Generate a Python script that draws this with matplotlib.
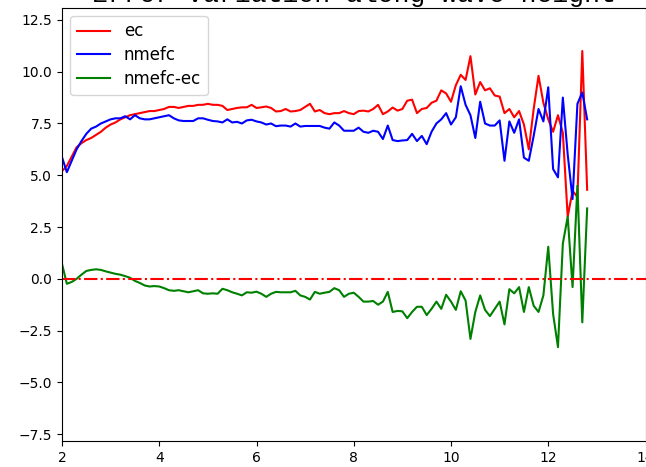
import matplotlib
matplotlib.use("Agg")
import matplotlib.pyplot as plt
import numpy as np

# wave height bins (0.1 steps from 2.0 to 12.8)
wave_height = np.round(np.arange(2.0, 12.85, 0.1), 1)

ec = [5.2, 5.45, 5.9, 6.35, 6.55, 6.7, 6.8, 6.95, 7.1, 7.3,
      7.45, 7.55, 7.7, 7.8, 7.9, 7.95, 8.0, 8.05, 8.1, 8.1,
      8.15, 8.2, 8.3, 8.3, 8.25, 8.3, 8.35, 8.35, 8.4, 8.4,
      8.45, 8.4, 8.4, 8.35, 8.15, 8.2, 8.25, 8.28, 8.28, 8.4,
      8.25, 8.28, 8.32, 8.25, 8.08, 8.1, 8.2, 8.08, 8.1, 8.15,
      8.3, 8.45, 8.08, 8.15, 8.0, 7.95, 8.0, 8.0, 8.1, 8.0,
      7.95, 8.1, 8.12, 8.08, 8.2, 8.4, 7.95, 8.08, 8.27, 8.12,
      8.2, 8.6, 8.65, 8.0, 8.2, 8.25, 8.5, 8.6, 9.1, 8.95,
      8.55, 9.35, 9.85, 9.6, 10.75, 8.9, 9.5, 9.1, 9.2, 8.85,
      8.8, 8.0, 8.2, 7.8, 8.1, 7.45, 6.25, 8.2, 9.8, 8.5,
      7.7, 7.1, 7.9, 7.05, 3.0, 4.25, 3.95, 11.0, 4.3]

nmefc = [5.87, 5.15, 5.7, 6.25, 6.65, 7.0, 7.25, 7.35, 7.5, 7.6,
         7.7, 7.75, 7.75, 7.85, 7.7, 7.9, 7.75, 7.7, 7.7, 7.75,
         7.8, 7.85, 7.9, 7.75, 7.65, 7.62, 7.62, 7.62, 7.75, 7.75,
         7.68, 7.62, 7.6, 7.55, 7.7, 7.55, 7.58, 7.5, 7.65, 7.68,
         7.6, 7.55, 7.45, 7.5, 7.37, 7.4, 7.4, 7.35, 7.5, 7.35,
         7.38, 7.38, 7.38, 7.38, 7.3, 7.25, 7.55, 7.4, 7.15, 7.15,
         7.15, 7.3, 7.1, 7.05, 7.15, 7.1, 6.75, 7.4, 6.7, 6.65,
         6.68, 6.7, 7.0, 6.65, 6.9, 6.5, 7.1, 7.5, 7.7, 8.0,
         7.45, 7.8, 9.3, 8.4, 7.9, 6.8, 8.55, 7.5, 7.4, 7.4,
         7.65, 5.7, 7.6, 7.05, 7.7, 5.85, 5.7, 6.9, 8.2, 7.6,
         9.25, 5.3, 4.9, 8.75, 6.0, 3.85, 8.45, 9.0, 7.7]

nmefc_ec = [0.72, -0.24, -0.15, 0.0, 0.2, 0.38, 0.43, 0.46, 0.43, 0.36,
            0.3, 0.24, 0.2, 0.13, 0.05, -0.1, -0.2, -0.32, -0.37, -0.35,
            -0.37, -0.45, -0.55, -0.58, -0.55, -0.6, -0.65, -0.6, -0.55, -0.7,
            -0.72, -0.7, -0.72, -0.48, -0.55, -0.65, -0.72, -0.8, -0.65, -0.67,
            -0.62, -0.72, -0.87, -0.72, -0.63, -0.65, -0.65, -0.65, -0.58, -0.8,
            -0.87, -1.0, -0.63, -0.72, -0.67, -0.63, -0.45, -0.55, -0.87, -0.72,
            -0.67, -0.87, -1.1, -1.1, -1.07, -1.25, -1.1, -0.63, -1.6, -1.55,
            -1.57, -1.9, -1.6, -1.35, -1.35, -1.75, -1.45, -1.1, -1.45, -0.77,
            -1.1, -1.5, -0.6, -1.05, -2.9, -1.6, -0.8, -1.5, -1.8, -1.45,
            -1.1, -2.2, -0.5, -0.7, -0.4, -1.6, -0.4, -1.3, -1.6, -0.8,
            1.55, -1.7, -3.3, 1.7, 3.0, -0.4, 4.5, -2.1, 3.4]

fig = plt.figure(figsize=(6.46, 4.67), dpi=100)
ax = fig.add_axes([62 / 646, 26 / 467, 583.5 / 646, 433.5 / 467])

ax.plot(wave_height, ec, color="r", label="ec")
ax.plot(wave_height, nmefc, color="b", label="nmefc")
ax.plot(wave_height, nmefc_ec, color="g", label="nmefc-ec")
ax.axhline(0, color="r", linestyle="-.")

ax.set_xlim(2, 14)
ax.set_ylim(-7.83, 13.1)
ax.set_yticks(np.arange(-7.5, 12.6, 2.5))
ax.set_title("Error variation along wave height",
             family="Liberation Mono", fontsize=19, pad=1.8)
ax.legend(loc="upper left", fontsize=12, labelspacing=0.35)

fig.savefig("out.png", dpi=100)
